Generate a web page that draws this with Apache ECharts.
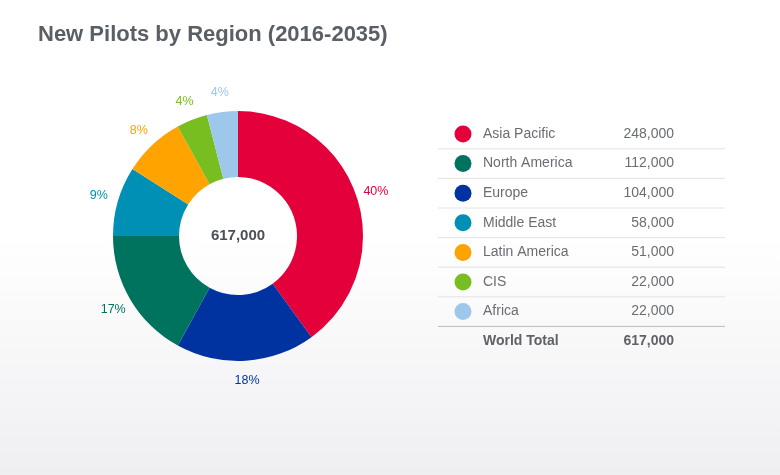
<!DOCTYPE html>
<html>
<head>
<meta charset="utf-8">
<script src="https://cdn.jsdelivr.net/npm/echarts@6/dist/echarts.min.js"></script>
<style>
html,body{margin:0;padding:0;width:780px;height:475px;overflow:hidden;}
#chart{width:780px;height:475px;}
</style>
</head>
<body>
<div id="chart"></div>
<script>
// Data
const titleText = 'New Pilots by Region (2016-2035)';
const regions = ['Asia Pacific', 'North America', 'Europe', 'Middle East', 'Latin America', 'CIS', 'Africa'];
const pilots = [248000, 112000, 104000, 58000, 51000, 22000, 22000];
// shares (%) as labelled and drawn in the donut, clockwise from 12 o'clock
const sharePct = [40, 18, 17, 9, 8, 4, 4];
const tableColors = ['#e4003b', '#00735f', '#0033a0', '#008fb5', '#ffa300', '#78be20', '#9dc8ec'];
// colours as drawn in the donut (North America / Europe appear swapped in the original graphic)
const pieColors = ['#e4003b', '#0033a0', '#00735f', '#008fb5', '#ffa300', '#78be20', '#9dc8ec'];
const totalLabel = 'World Total';

const total = pilots.reduce((a, b) => a + b, 0);
const fmt = v => v.toLocaleString('en-US');

const pieData = regions.map((r, i) => ({
  name: r, value: sharePct[i],
  itemStyle: { color: pieColors[i] },
  label: { color: pieColors[i] }
}));

// table graphics
const rowTop = 134, rowH = 29.6;
const font = '14px "Liberation Sans", Arial, sans-serif';
const boldFont = 'bold 14px "Liberation Sans", Arial, sans-serif';
const graphics = [];
regions.forEach((r, i) => {
  const y = rowTop + i * rowH;
  graphics.push({ type: 'circle', shape: { cx: 463, cy: y, r: 8.5 }, style: { fill: tableColors[i] }, silent: true });
  graphics.push({ type: 'text', x: 483, y: y, style: { text: r, fill: '#6a6d72', font: font, textVerticalAlign: 'middle', textAlign: 'left' }, silent: true });
  graphics.push({ type: 'text', x: 674, y: y, style: { text: fmt(pilots[i]), fill: '#6a6d72', font: font, textVerticalAlign: 'middle', textAlign: 'right' }, silent: true });
  const ly = y + rowH / 2;
  const last = i === regions.length - 1;
  graphics.push({ type: 'line', shape: { x1: 438, y1: ly, x2: 725, y2: ly }, style: { stroke: last ? '#b9bcc0' : '#e2e3e6', lineWidth: 1 }, silent: true });
});
const ty = rowTop + regions.length * rowH;
graphics.push({ type: 'text', x: 483, y: ty, style: { text: totalLabel, fill: '#5f6268', font: boldFont, textVerticalAlign: 'middle', textAlign: 'left' }, silent: true });
graphics.push({ type: 'text', x: 674, y: ty, style: { text: fmt(total), fill: '#5f6268', font: boldFont, textVerticalAlign: 'middle', textAlign: 'right' }, silent: true });

const chart = echarts.init(document.getElementById('chart'));
chart.setOption({
  animation: false,
  backgroundColor: {
    type: 'linear', x: 0, y: 0, x2: 0, y2: 1,
    colorStops: [
      { offset: 0, color: '#ffffff' },
      { offset: 0.5, color: '#ffffff' },
      { offset: 1, color: '#efeff2' }
    ]
  },
  title: {
    text: titleText, left: 33, top: 19,
    textStyle: { color: '#5a5e65', fontSize: 22, fontWeight: 'bold', fontFamily: '"Liberation Sans", Arial, sans-serif' }
  },
  graphic: graphics,
  series: [
    {
      type: 'pie', silent: true,
      center: [238, 236], radius: [59, 125],
      startAngle: 90, clockwise: true,
      label: { show: false },
      labelLine: { show: false },
      itemStyle: { borderWidth: 0 },
      data: pieData
    },
    {
      // transparent ring that only carries the percentage labels
      type: 'pie', silent: true,
      center: [238, 236], radius: [127, 157],
      startAngle: 90, clockwise: true,
      label: {
        show: true, position: 'inside', formatter: '{c}%',
        fontSize: 12.5, fontFamily: '"Liberation Sans", Arial, sans-serif'
      },
      labelLine: { show: false },
      data: pieData.map(d => ({ name: d.name, value: d.value, itemStyle: { color: 'rgba(0,0,0,0)' }, label: d.label }))
    },
    {
      type: 'pie', silent: true,
      center: [238, 236], radius: [0, 59],
      label: {
        show: true, position: 'center', formatter: () => fmt(total),
        color: '#4b4f56', fontSize: 15, fontWeight: 'bold', fontFamily: '"Liberation Sans", Arial, sans-serif'
      },
      labelLine: { show: false },
      itemStyle: { color: 'rgba(0,0,0,0)' },
      data: [{ name: totalLabel, value: total }]
    }
  ]
});
</script>
</body>
</html>
